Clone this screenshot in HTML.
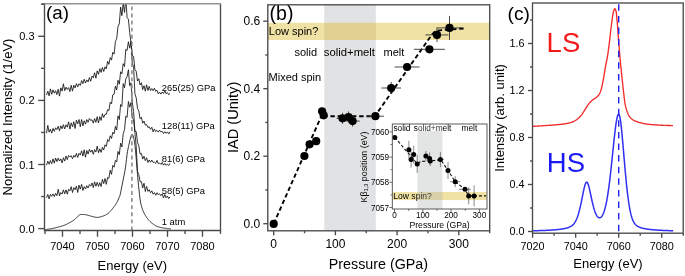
<!DOCTYPE html>
<html><head><meta charset="utf-8"><style>html,body{margin:0;padding:0;background:#fff;width:685px;height:276px;overflow:hidden}svg{display:block;will-change:transform}</style></head><body>
<svg width="685" height="276" viewBox="0 0 685 276" font-family='"Liberation Sans", sans-serif'>
<rect width="685" height="276" fill="#fff"/>
<defs><clipPath id="ca"><rect x="44.5" y="4.0" width="176.0" height="226.5"/></clipPath></defs>
<g clip-path="url(#ca)">
<path d="M45,229.8 L45.5,229.71 L46,229.63 L46.5,229.54 L47,229.45 L47.5,229.36 L48,229.27 L48.5,229.18 L49,229.09 L49.5,228.99 L50,228.9 L50.5,228.81 L51,228.71 L51.5,228.62 L52,228.52 L52.5,228.42 L53,228.32 L53.5,228.22 L54,228.12 L54.5,228.01 L55,227.9 L55.5,227.78 L56,227.67 L56.5,227.54 L57,227.41 L57.5,227.28 L58,227.15 L58.5,227.02 L59,226.88 L59.5,226.74 L60,226.6 L60.5,226.46 L61,226.32 L61.5,226.17 L62,226.02 L62.5,225.87 L63,225.7 L63.5,225.53 L64,225.35 L64.5,225.16 L65,224.96 L65.5,224.75 L66,224.54 L66.5,224.31 L67,224.06 L67.5,223.8 L68,223.53 L68.5,223.25 L69,222.96 L69.5,222.68 L70,222.4 L70.5,222.13 L71,221.86 L71.5,221.59 L72,221.3 L72.5,221 L73,220.68 L73.5,220.34 L74,219.99 L74.5,219.6 L75,219.16 L75.5,218.67 L76,218.15 L76.5,217.64 L77,217.16 L77.5,216.73 L78,216.28 L78.5,215.8 L79,215.35 L79.5,214.96 L80,214.67 L80.5,214.51 L81,214.5 L81.5,214.5 L82,214.5 L82.5,214.5 L83,214.5 L83.5,214.5 L84,214.5 L84.5,214.52 L85,214.59 L85.5,214.68 L86,214.79 L86.5,214.91 L87,215.03 L87.5,215.14 L88,215.27 L88.5,215.4 L89,215.55 L89.5,215.7 L90,215.85 L90.5,216 L91,216.15 L91.5,216.28 L92,216.4 L92.5,216.52 L93,216.64 L93.5,216.77 L94,216.89 L94.5,217.01 L95,217.13 L95.5,217.22 L96,217.3 L96.5,217.36 L97,217.39 L97.5,217.4 L98,217.37 L98.5,217.3 L99,217.21 L99.5,217.11 L100,216.98 L100.5,216.84 L101,216.69 L101.5,216.55 L102,216.4 L102.5,216.25 L103,216.08 L103.5,215.9 L104,215.7 L104.5,215.49 L105,215.26 L105.5,215.02 L106,214.76 L106.5,214.48 L107,214.18 L107.5,213.87 L108,213.5 L108.5,213.08 L109,212.61 L109.5,212.11 L110,211.59 L110.5,211.05 L111,210.5 L111.5,209.93 L112,209.33 L112.5,208.7 L113,208.05 L113.5,207.38 L114,206.7 L114.5,206.03 L115,205.36 L115.5,204.67 L116,203.94 L116.5,203.16 L117,202.3 L117.5,201.32 L118,200.2 L118.5,199.01 L119,197.8 L119.5,196.65 L120,195.32 L120.5,193.34 L121,190.72 L121.5,188.1 L122,185.56 L122.5,183.01 L123,180.5 L123.5,178.03 L124,175.5 L124.5,172.96 L125,170.29 L125.5,167.17 L126,163.41 L126.5,159.25 L127,154.73 L127.5,151.55 L128,148.98 L128.5,146.56 L129,144.31 L129.5,142.12 L130,139.95 L130.5,138 L131,136.24 L131.5,135.02 L132,134.33 L132.5,134.58 L133,135.41 L133.5,137.19 L134,139.35 L134.5,141.78 L135,145.39 L135.5,150.58 L136,156.14 L136.5,162.14 L137,168.19 L137.5,174.25 L138,180 L138.5,185.24 L139,190 L139.5,194.49 L140,198.69 L140.5,202.07 L141,204.43 L141.5,206.33 L142,207.92 L142.5,209.36 L143,210.67 L143.5,211.84 L144,212.91 L144.5,213.88 L145,214.79 L145.5,215.64 L146,216.44 L146.5,217.19 L147,217.9 L147.5,218.56 L148,219.2 L148.5,219.81 L149,220.4 L149.5,220.95 L150,221.46 L150.5,221.94 L151,222.37 L151.5,222.79 L152,223.2 L152.5,223.6 L153,223.99 L153.5,224.36 L154,224.72 L154.5,225.06 L155,225.37 L155.5,225.67 L156,225.93 L156.5,226.18 L157,226.39 L157.5,226.57 L158,226.74 L158.5,226.89 L159,227.04 L159.5,227.17 L160,227.3 L160.5,227.41 L161,227.52 L161.5,227.63 L162,227.72 L162.5,227.81 L163,227.9 L163.5,227.98 L164,228.07 L164.5,228.15 L165,228.23 L165.5,228.3 L166,228.38 L166.5,228.45 L167,228.51 L167.5,228.58 L168,228.64 L168.5,228.69 L169,228.75 L169.5,228.79 L170,228.83 L170.5,228.87 L171,228.9" fill="none" stroke="#111" stroke-width="0.85" stroke-linejoin="round" />
<path d="M46.5,197.68 L47.8,194.46 L49.1,198.86 L50.4,194.4 L51.7,196.35 L53,193.89 L54.3,196.58 L55.6,193.4 L56.9,195.69 L58.2,189.29 L59.5,195.89 L60.8,192.56 L62.1,194.03 L63.4,189.87 L64.7,193.81 L66,189.89 L67.3,194.23 L68.6,189.2 L69.9,190.8 L71.2,186.75 L72.5,192.51 L73.8,187.7 L75.1,189.71 L76.4,186.1 L77.7,192.49 L79,185.16 L80.3,189.11 L81.6,184.35 L82.9,190.51 L84.2,186.66 L85.5,188.96 L86.8,185.71 L88.1,187.92 L89.4,184.57 L90.7,186.16 L92,182.9 L93.3,187.58 L94.6,181.77 L95.9,186.29 L97.2,182.31 L98.5,186.38 L99.8,182.64 L101.1,186.56 L102.4,179.3 L103.7,183.63 L105,178.49 L106.3,184.35 L107.6,177.48 L108.9,178.25 L110.2,170.22 L111.5,174.32 L112.8,165.39 L114.1,167.17 L115.4,160.43 L116.7,162.03 L118,151.48 L119.3,154.67 L120.6,143.14 L121.9,147.01 L123.2,133.81 L124.5,129.62 L125.8,116.24 L127.1,117.31 L128.4,101.48 L129.7,107.18 L131,102.51 L132.3,118.38 L133.6,119.6 L134.9,132.39 L136.2,146.32 L137.5,171.44 L138.8,174.62 L140.1,181.61 L141.4,181.65 L142.7,187.97 L144,183.25 L145.3,191.44 L146.6,186.38 L147.9,191.35 L149.2,189.72 L150.5,192.77 L151.8,190.81 L153.1,194.16 L154.4,192.6 L155.7,195.25 L157,192.7 L158.3,194.76 L159.6,193.81 L160.9,195.7 L162.2,193.9 L163.5,197.96 L164.8,194.51 L166.1,197.75 L167.4,195.99 L168.7,198.67 L170,196.74" fill="none" stroke="#111" stroke-width="0.85" stroke-linejoin="round" />
<path d="M46.5,165.2 L47.8,161.21 L49.1,164.21 L50.4,160.53 L51.7,163.71 L53,158.85 L54.3,163.19 L55.6,157.98 L56.9,161.55 L58.2,158.15 L59.5,161.04 L60.8,158.9 L62.1,162.92 L63.4,157.72 L64.7,161.06 L66,156.08 L67.3,159.64 L68.6,155.41 L69.9,156.84 L71.2,155.73 L72.5,158.58 L73.8,155.41 L75.1,157.17 L76.4,153.4 L77.7,157.37 L79,153.29 L80.3,155 L81.6,150.83 L82.9,156.1 L84.2,149.81 L85.5,157.24 L86.8,150.48 L88.1,154.06 L89.4,149.28 L90.7,152.2 L92,150.04 L93.3,154.32 L94.6,149.66 L95.9,151.98 L97.2,146.16 L98.5,152.78 L99.8,148.86 L101.1,152.42 L102.4,147.26 L103.7,150.01 L105,144.82 L106.3,146.41 L107.6,139.57 L108.9,141.4 L110.2,135.82 L111.5,138.51 L112.8,132.26 L114.1,133.85 L115.4,126.38 L116.7,130.06 L118,115.84 L119.3,119.55 L120.6,104.53 L121.9,106.4 L123.2,83.62 L124.5,87.75 L125.8,78.77 L127.1,76.69 L128.4,69.74 L129.7,85.74 L131,82.83 L132.3,102.36 L133.6,111.59 L134.9,131.46 L136.2,131.52 L137.5,142.45 L138.8,145.79 L140.1,154.07 L141.4,153.42 L142.7,159.09 L144,156.21 L145.3,160.64 L146.6,157.71 L147.9,162.49 L149.2,159.98 L150.5,162.22 L151.8,160.04 L153.1,162.46 L154.4,162.12 L155.7,163.31 L157,160.36 L158.3,163.83 L159.6,163.01 L160.9,164.36 L162.2,162.37 L163.5,165.19 L164.8,163.4 L166.1,165.33 L167.4,164.06 L168.7,165.46 L170,163.41" fill="none" stroke="#111" stroke-width="0.85" stroke-linejoin="round" />
<path d="M46.5,133.17 L47.8,125.4 L49.1,132.13 L50.4,129.13 L51.7,133.11 L53,128.4 L54.3,131.4 L55.6,127.81 L56.9,129.57 L58.2,126.18 L59.5,130.84 L60.8,125.79 L62.1,128.75 L63.4,124.67 L64.7,128.96 L66,124.78 L67.3,127.17 L68.6,121.82 L69.9,129.08 L71.2,122.85 L72.5,126.72 L73.8,121.81 L75.1,128.47 L76.4,120.12 L77.7,123.86 L79,119.52 L80.3,126.75 L81.6,119.5 L82.9,125.88 L84.2,120.75 L85.5,124.14 L86.8,119.58 L88.1,122.36 L89.4,118.44 L90.7,120.51 L92,119.71 L93.3,123.16 L94.6,118.6 L95.9,122.38 L97.2,116.73 L98.5,122.98 L99.8,116.62 L101.1,120.44 L102.4,113.66 L103.7,117.47 L105,114.33 L106.3,114.37 L107.6,109.6 L108.9,110.61 L110.2,102.26 L111.5,103.86 L112.8,94.84 L114.1,94.12 L115.4,86.1 L116.7,90.01 L118,80.31 L119.3,84.24 L120.6,71.76 L121.9,73.76 L123.2,63.68 L124.5,66.53 L125.8,49.35 L127.1,50.44 L128.4,41.75 L129.7,48.17 L131,41.22 L132.3,63.63 L133.6,66.38 L134.9,93.66 L136.2,97.77 L137.5,108.44 L138.8,111.07 L140.1,118.84 L141.4,117.31 L142.7,123.24 L144,121.01 L145.3,125.17 L146.6,124.49 L147.9,127.51 L149.2,126.7 L150.5,129.28 L151.8,127.27 L153.1,131.91 L154.4,128.97 L155.7,131.53 L157,130.34 L158.3,132.12 L159.6,130.12 L160.9,131.9 L162.2,131.32 L163.5,133.58 L164.8,131.72 L166.1,133.34 L167.4,131.92 L168.7,133.95 L170,131.51" fill="none" stroke="#111" stroke-width="0.85" stroke-linejoin="round" />
<path d="M46.5,94.97 L47.8,91.13 L49.1,95.85 L50.4,88.88 L51.7,94.31 L53,89.82 L54.3,93.13 L55.6,90.71 L56.9,94.59 L58.2,89.22 L59.5,96.14 L60.8,87.87 L62.1,91.07 L63.4,83.8 L64.7,90.68 L66,87.16 L67.3,89.51 L68.6,87.57 L69.9,91.59 L71.2,85.31 L72.5,91.14 L73.8,85.28 L75.1,87.9 L76.4,83.67 L77.7,86.86 L79,83.79 L80.3,85.38 L81.6,80.58 L82.9,83.68 L84.2,79.22 L85.5,83.05 L86.8,79.91 L88.1,81.98 L89.4,77.56 L90.7,81.3 L92,76.07 L93.3,77.85 L94.6,72.79 L95.9,78.21 L97.2,70.84 L98.5,74.31 L99.8,68.67 L101.1,72.4 L102.4,67.47 L103.7,71.57 L105,66.82 L106.3,68.88 L107.6,61.27 L108.9,64.33 L110.2,57.67 L111.5,60.09 L112.8,52.31 L114.1,54.08 L115.4,41.62 L116.7,38.6 L118,26.43 L119.3,23.8 L120.6,7.16 L121.9,15.63 L123.2,2.58 L124.5,12.42 L125.8,-1.54 L127.1,17.56 L128.4,19.23 L129.7,32.55 L131,42.82 L132.3,55.36 L133.6,56.53 L134.9,69.54 L136.2,71.21 L137.5,81.09 L138.8,78.73 L140.1,85.01 L141.4,82.69 L142.7,89.56 L144,85.69 L145.3,91.18 L146.6,84.83 L147.9,90.51 L149.2,86.46 L150.5,90.69 L151.8,88.56 L153.1,90.67 L154.4,88.25 L155.7,91.31 L157,90.26 L158.3,93.93 L159.6,92.19 L160.9,94.11 L162.2,92.04 L163.5,93.51 L164.8,90.92 L166.1,93.74 L167.4,92.56 L168.7,94.64 L170,93.53" fill="none" stroke="#111" stroke-width="0.85" stroke-linejoin="round" />
</g>
<line x1="131.9" y1="4.0" x2="131.9" y2="230.5" stroke="#858585" stroke-width="1.5" stroke-dasharray="3.9,3.2" stroke-dashoffset="4.7"/>
<path d="M44.5,4.0 V230.5 H220.5 V4.0" fill="none" stroke="#4a4a4a" stroke-width="1.35"/>
<line x1="41.4" y1="3.8" x2="221.1" y2="3.8" stroke="#939393" stroke-width="1.6"/>
<line x1="38.2" y1="228.60" x2="44.5" y2="228.60" stroke="#4a4a4a" stroke-width="1.35"/>
<text x="34.5" y="232.6" font-size="11" text-anchor="end" fill="#000" >0.0</text>
<line x1="41.1" y1="196.55" x2="44.5" y2="196.55" stroke="#4a4a4a" stroke-width="1.35"/>
<line x1="38.2" y1="164.50" x2="44.5" y2="164.50" stroke="#4a4a4a" stroke-width="1.35"/>
<text x="34.5" y="168.5" font-size="11" text-anchor="end" fill="#000" >0.1</text>
<line x1="41.1" y1="132.45" x2="44.5" y2="132.45" stroke="#4a4a4a" stroke-width="1.35"/>
<line x1="38.2" y1="100.40" x2="44.5" y2="100.40" stroke="#4a4a4a" stroke-width="1.35"/>
<text x="34.5" y="104.4" font-size="11" text-anchor="end" fill="#000" >0.2</text>
<line x1="41.1" y1="68.35" x2="44.5" y2="68.35" stroke="#4a4a4a" stroke-width="1.35"/>
<line x1="38.2" y1="36.30" x2="44.5" y2="36.30" stroke="#4a4a4a" stroke-width="1.35"/>
<text x="34.5" y="40.3" font-size="11" text-anchor="end" fill="#000" >0.3</text>
<line x1="41.1" y1="4.25" x2="44.5" y2="4.25" stroke="#4a4a4a" stroke-width="1.35"/>
<line x1="45.00" y1="230.5" x2="45.00" y2="233.9" stroke="#4a4a4a" stroke-width="1.35"/>
<line x1="62.50" y1="230.5" x2="62.50" y2="236.8" stroke="#4a4a4a" stroke-width="1.35"/>
<text x="62.5" y="250.2" font-size="11" text-anchor="middle" fill="#000" >7040</text>
<line x1="80.00" y1="230.5" x2="80.00" y2="233.9" stroke="#4a4a4a" stroke-width="1.35"/>
<line x1="97.50" y1="230.5" x2="97.50" y2="236.8" stroke="#4a4a4a" stroke-width="1.35"/>
<text x="97.5" y="250.2" font-size="11" text-anchor="middle" fill="#000" >7050</text>
<line x1="115.00" y1="230.5" x2="115.00" y2="233.9" stroke="#4a4a4a" stroke-width="1.35"/>
<line x1="132.50" y1="230.5" x2="132.50" y2="236.8" stroke="#4a4a4a" stroke-width="1.35"/>
<text x="132.5" y="250.2" font-size="11" text-anchor="middle" fill="#000" >7060</text>
<line x1="150.00" y1="230.5" x2="150.00" y2="233.9" stroke="#4a4a4a" stroke-width="1.35"/>
<line x1="167.50" y1="230.5" x2="167.50" y2="236.8" stroke="#4a4a4a" stroke-width="1.35"/>
<text x="167.5" y="250.2" font-size="11" text-anchor="middle" fill="#000" >7070</text>
<line x1="185.00" y1="230.5" x2="185.00" y2="233.9" stroke="#4a4a4a" stroke-width="1.35"/>
<line x1="202.50" y1="230.5" x2="202.50" y2="236.8" stroke="#4a4a4a" stroke-width="1.35"/>
<text x="202.5" y="250.2" font-size="11" text-anchor="middle" fill="#000" >7080</text>
<line x1="220.50" y1="230.5" x2="220.50" y2="233.9" stroke="#4a4a4a" stroke-width="1.35"/>
<text x="46" y="18.6" font-size="18.8" text-anchor="start" fill="#000" >(a)</text>
<text x="161.8" y="91.1" font-size="9.4" text-anchor="start" fill="#000" >265(25) GPa</text>
<text x="161.8" y="129.2" font-size="9.4" text-anchor="start" fill="#000" >128(11) GPa</text>
<text x="161.8" y="162.3" font-size="9.4" text-anchor="start" fill="#000" >81(6) GPa</text>
<text x="161.8" y="193.8" font-size="9.4" text-anchor="start" fill="#000" >58(5) GPa</text>
<text x="161.8" y="224.8" font-size="9.4" text-anchor="start" fill="#000" >1 atm</text>
<text x="132.3" y="270.3" font-size="13" text-anchor="middle" fill="#000" >Energy (eV)</text>
<text transform="translate(11.7,117) rotate(-90)" font-size="13" text-anchor="middle" fill="#000">Normalized Intensity (1/eV)</text>
<rect x="324.294" y="4.8" width="51.52" height="226.0" fill="#e1e2e3"/>
<rect x="267.8" y="22.8" width="221.90" height="17.2" fill="#efe2a4"/>
<rect x="324.294" y="22.8" width="51.52" height="17.2" fill="#e0d091"/>
<text x="269.6" y="20.2" font-size="19.5" text-anchor="start" fill="#000" >(b)</text>
<text x="268.8" y="34.8" font-size="11" text-anchor="start" fill="#000" >Low spin?</text>
<text x="294.4" y="55.6" font-size="11" text-anchor="start" fill="#000" >solid</text>
<text x="323.8" y="55.6" font-size="11.3" text-anchor="start" fill="#000" >solid+melt</text>
<text x="383.6" y="55.6" font-size="11" text-anchor="start" fill="#000" >melt</text>
<text x="268.6" y="81" font-size="11" text-anchor="start" fill="#000" >Mixed spin</text>
<path d="M273.7,223.7 L322.5,113.5 L325,116.2 L374.9,116.2 L431.4,35.3 L434,32.4 L436.8,30.8 L442.8,30 L465,28.4" fill="none" stroke="#000" stroke-width="1.9" stroke-linejoin="round" stroke-dasharray="4.4,2.8"/>
<line x1="336.5" y1="118.3" x2="348.5" y2="118.3" stroke="#333" stroke-width="0.9"/>
<line x1="342.5" y1="112.8" x2="342.5" y2="123.8" stroke="#333" stroke-width="0.9"/>
<line x1="343.0" y1="117" x2="354.0" y2="117" stroke="#333" stroke-width="0.9"/>
<line x1="348.5" y1="111.5" x2="348.5" y2="122.5" stroke="#333" stroke-width="0.9"/>
<line x1="345.6" y1="121.1" x2="359.6" y2="121.1" stroke="#333" stroke-width="0.9"/>
<line x1="352.6" y1="115.6" x2="352.6" y2="126.6" stroke="#333" stroke-width="0.9"/>
<line x1="366.9" y1="116.2" x2="383.9" y2="116.2" stroke="#333" stroke-width="0.9"/>
<line x1="381.4" y1="88" x2="401.0" y2="88" stroke="#333" stroke-width="0.9"/>
<line x1="391.2" y1="82" x2="391.2" y2="94" stroke="#333" stroke-width="0.9"/>
<line x1="394.6" y1="67" x2="419.6" y2="67" stroke="#333" stroke-width="0.9"/>
<line x1="413.9" y1="49.3" x2="444.9" y2="49.3" stroke="#333" stroke-width="0.9"/>
<line x1="429.4" y1="46.3" x2="429.4" y2="52.3" stroke="#333" stroke-width="0.9"/>
<line x1="425.5" y1="34.9" x2="448.5" y2="34.9" stroke="#333" stroke-width="0.9"/>
<line x1="437" y1="27.9" x2="437" y2="41.9" stroke="#333" stroke-width="0.9"/>
<line x1="436.5" y1="27.9" x2="462.5" y2="27.9" stroke="#333" stroke-width="0.9"/>
<line x1="449.5" y1="15.899999999999999" x2="449.5" y2="39.9" stroke="#333" stroke-width="0.9"/>
<circle cx="273.7" cy="223.9" r="4.1" fill="#000"/>
<circle cx="304.4" cy="156" r="4.1" fill="#000"/>
<circle cx="309.6" cy="144.3" r="4.1" fill="#000"/>
<circle cx="316.2" cy="141.2" r="4.1" fill="#000"/>
<circle cx="322.1" cy="111.3" r="4.1" fill="#000"/>
<circle cx="323.7" cy="115.3" r="4.1" fill="#000"/>
<circle cx="342.5" cy="118.3" r="4.1" fill="#000"/>
<circle cx="348.5" cy="117" r="4.1" fill="#000"/>
<circle cx="352.6" cy="121.1" r="4.1" fill="#000"/>
<circle cx="375.4" cy="116.2" r="4.1" fill="#000"/>
<circle cx="391.2" cy="88" r="4.1" fill="#000"/>
<circle cx="407.1" cy="67" r="4.1" fill="#000"/>
<circle cx="429.4" cy="49.3" r="4.1" fill="#000"/>
<circle cx="437" cy="34.9" r="4.1" fill="#000"/>
<circle cx="449.5" cy="27.9" r="4.1" fill="#000"/>
<rect x="392.3" y="124.0" width="94.70" height="85.00" fill="#fff"/>
<rect x="392.3" y="192.1" width="94.70" height="8.0" fill="#efe2a4"/>
<text x="393.2" y="199" font-size="8.6" text-anchor="start" fill="#000" >Low spin?</text>
<text x="393.4" y="130.6" font-size="8.3" text-anchor="start" fill="#000" >solid</text>
<text x="413.8" y="130.6" font-size="8.3" text-anchor="start" fill="#000" >solid+melt</text>
<text x="461.6" y="130.6" font-size="8.3" text-anchor="start" fill="#000" >melt</text>
<rect x="417.4" y="130.9" width="25.0" height="78.10" fill="#aaacae" fill-opacity="0.33"/>
<rect x="417.4" y="124.0" width="25.0" height="6.90" fill="#fff" fill-opacity="0.18"/>
<path d="M394.8,137.4 L417,163.5 L421,161.5 L441,160 L448,170.4 L455.2,181.7 L465,189.3 L468.7,195.9 L486,195.9" fill="none" stroke="#111" stroke-width="1.1" stroke-linejoin="round" stroke-dasharray="3,2"/>
<line x1="408.9" y1="140.8" x2="408.9" y2="158.8" stroke="#555" stroke-width="0.7"/>
<line x1="413.7" y1="145.6" x2="413.7" y2="163.6" stroke="#555" stroke-width="0.7"/>
<line x1="411.1" y1="151.6" x2="411.1" y2="167.6" stroke="#555" stroke-width="0.7"/>
<line x1="417.2" y1="154.9" x2="417.2" y2="172.9" stroke="#555" stroke-width="0.7"/>
<line x1="425.9" y1="150.9" x2="425.9" y2="160.9" stroke="#555" stroke-width="0.7"/>
<line x1="429.6" y1="152.5" x2="429.6" y2="164.5" stroke="#555" stroke-width="0.7"/>
<line x1="430.2" y1="156.1" x2="430.2" y2="166.1" stroke="#555" stroke-width="0.7"/>
<line x1="436.9" y1="159.6" x2="443.9" y2="159.6" stroke="#555" stroke-width="0.7"/>
<line x1="440.4" y1="152.1" x2="440.4" y2="167.1" stroke="#555" stroke-width="0.7"/>
<line x1="448" y1="161.9" x2="448" y2="178.9" stroke="#555" stroke-width="0.7"/>
<line x1="450.2" y1="181.7" x2="460.2" y2="181.7" stroke="#555" stroke-width="0.7"/>
<line x1="455.2" y1="176.2" x2="455.2" y2="187.2" stroke="#555" stroke-width="0.7"/>
<line x1="459" y1="189.3" x2="471" y2="189.3" stroke="#555" stroke-width="0.7"/>
<line x1="468.7" y1="187.4" x2="468.7" y2="204.4" stroke="#555" stroke-width="0.7"/>
<line x1="474.1" y1="185.4" x2="474.1" y2="206.4" stroke="#555" stroke-width="0.7"/>
<circle cx="394.8" cy="137.4" r="2.5" fill="#000"/>
<circle cx="408.9" cy="149.8" r="2.5" fill="#000"/>
<circle cx="413.7" cy="154.6" r="2.5" fill="#000"/>
<circle cx="411.1" cy="159.6" r="2.5" fill="#000"/>
<circle cx="417.2" cy="163.9" r="2.5" fill="#000"/>
<circle cx="425.9" cy="155.9" r="2.5" fill="#000"/>
<circle cx="429.6" cy="158.5" r="2.5" fill="#000"/>
<circle cx="430.2" cy="161.1" r="2.5" fill="#000"/>
<circle cx="440.4" cy="159.6" r="2.5" fill="#000"/>
<circle cx="448" cy="170.4" r="2.5" fill="#000"/>
<circle cx="455.2" cy="181.7" r="2.5" fill="#000"/>
<circle cx="465" cy="189.3" r="2.5" fill="#000"/>
<circle cx="468.7" cy="195.9" r="2.5" fill="#000"/>
<circle cx="474.1" cy="195.9" r="2.5" fill="#000"/>
<rect x="392.3" y="124.0" width="94.70" height="85.00" fill="none" stroke="#4a4a4a" stroke-width="0.9"/>
<line x1="394.50" y1="209.0" x2="394.50" y2="212.0" stroke="#4a4a4a" stroke-width="0.8"/>
<text x="394.5" y="218" font-size="8.2" text-anchor="middle" fill="#000" >0</text>
<line x1="408.65" y1="209.0" x2="408.65" y2="210.8" stroke="#4a4a4a" stroke-width="0.8"/>
<line x1="422.80" y1="209.0" x2="422.80" y2="212.0" stroke="#4a4a4a" stroke-width="0.8"/>
<text x="422.8" y="218" font-size="8.2" text-anchor="middle" fill="#000" >100</text>
<line x1="436.95" y1="209.0" x2="436.95" y2="210.8" stroke="#4a4a4a" stroke-width="0.8"/>
<line x1="451.10" y1="209.0" x2="451.10" y2="212.0" stroke="#4a4a4a" stroke-width="0.8"/>
<text x="451.1" y="218" font-size="8.2" text-anchor="middle" fill="#000" >200</text>
<line x1="465.25" y1="209.0" x2="465.25" y2="210.8" stroke="#4a4a4a" stroke-width="0.8"/>
<line x1="479.40" y1="209.0" x2="479.40" y2="212.0" stroke="#4a4a4a" stroke-width="0.8"/>
<text x="479.4" y="218" font-size="8.2" text-anchor="middle" fill="#000" >300</text>
<line x1="389.3" y1="207.50" x2="392.3" y2="207.50" stroke="#4a4a4a" stroke-width="0.8"/>
<text x="389.1" y="210.5" font-size="8.2" text-anchor="end" fill="#000" >7057</text>
<line x1="390.5" y1="194.90" x2="392.3" y2="194.90" stroke="#4a4a4a" stroke-width="0.8"/>
<line x1="389.3" y1="182.30" x2="392.3" y2="182.30" stroke="#4a4a4a" stroke-width="0.8"/>
<text x="389.1" y="185.3" font-size="8.2" text-anchor="end" fill="#000" >7058</text>
<line x1="390.5" y1="169.70" x2="392.3" y2="169.70" stroke="#4a4a4a" stroke-width="0.8"/>
<line x1="389.3" y1="157.10" x2="392.3" y2="157.10" stroke="#4a4a4a" stroke-width="0.8"/>
<text x="389.1" y="160.1" font-size="8.2" text-anchor="end" fill="#000" >7059</text>
<line x1="390.5" y1="144.50" x2="392.3" y2="144.50" stroke="#4a4a4a" stroke-width="0.8"/>
<line x1="389.3" y1="131.90" x2="392.3" y2="131.90" stroke="#4a4a4a" stroke-width="0.8"/>
<text x="389.1" y="134.9" font-size="8.2" text-anchor="end" fill="#000" >7060</text>
<text x="439.6" y="228.4" font-size="8.7" text-anchor="middle" fill="#000" >Pressure (GPa)</text>
<text transform="translate(367.0,167.0) rotate(-90)" font-size="8.85" text-anchor="middle" fill="#000">Kβ<tspan font-size="5.6" dy="0.9">1,3</tspan><tspan dy="-0.9"> position (eV)</tspan></text>
<rect x="267.8" y="4.8" width="221.90" height="226.00" fill="none" stroke="#4a4a4a" stroke-width="1.35"/>
<line x1="263.3" y1="223.70" x2="267.8" y2="223.70" stroke="#4a4a4a" stroke-width="1.35"/>
<text x="260.3" y="227.6" font-size="12" text-anchor="end" fill="#000" >0.0</text>
<line x1="265.3" y1="189.95" x2="267.8" y2="189.95" stroke="#4a4a4a" stroke-width="1.35"/>
<line x1="263.3" y1="156.20" x2="267.8" y2="156.20" stroke="#4a4a4a" stroke-width="1.35"/>
<text x="260.3" y="160.1" font-size="12" text-anchor="end" fill="#000" >0.2</text>
<line x1="265.3" y1="122.45" x2="267.8" y2="122.45" stroke="#4a4a4a" stroke-width="1.35"/>
<line x1="263.3" y1="88.70" x2="267.8" y2="88.70" stroke="#4a4a4a" stroke-width="1.35"/>
<text x="260.3" y="92.6" font-size="12" text-anchor="end" fill="#000" >0.4</text>
<line x1="265.3" y1="54.95" x2="267.8" y2="54.95" stroke="#4a4a4a" stroke-width="1.35"/>
<line x1="263.3" y1="21.20" x2="267.8" y2="21.20" stroke="#4a4a4a" stroke-width="1.35"/>
<text x="260.3" y="25.1" font-size="12" text-anchor="end" fill="#000" >0.6</text>
<line x1="273.70" y1="230.8" x2="273.70" y2="235.3" stroke="#4a4a4a" stroke-width="1.35"/>
<text x="273.7" y="248" font-size="12" text-anchor="middle" fill="#000" >0</text>
<line x1="304.55" y1="230.8" x2="304.55" y2="233.3" stroke="#4a4a4a" stroke-width="1.35"/>
<line x1="335.40" y1="230.8" x2="335.40" y2="235.3" stroke="#4a4a4a" stroke-width="1.35"/>
<text x="335.4" y="248" font-size="12" text-anchor="middle" fill="#000" >100</text>
<line x1="366.25" y1="230.8" x2="366.25" y2="233.3" stroke="#4a4a4a" stroke-width="1.35"/>
<line x1="397.10" y1="230.8" x2="397.10" y2="235.3" stroke="#4a4a4a" stroke-width="1.35"/>
<text x="397.1" y="248" font-size="12" text-anchor="middle" fill="#000" >200</text>
<line x1="427.95" y1="230.8" x2="427.95" y2="233.3" stroke="#4a4a4a" stroke-width="1.35"/>
<line x1="458.80" y1="230.8" x2="458.80" y2="235.3" stroke="#4a4a4a" stroke-width="1.35"/>
<text x="458.8" y="248" font-size="12" text-anchor="middle" fill="#000" >300</text>
<line x1="489.65" y1="230.8" x2="489.65" y2="233.3" stroke="#4a4a4a" stroke-width="1.35"/>
<text x="378.4" y="269.4" font-size="14.3" text-anchor="middle" fill="#000" >Pressure (GPa)</text>
<text transform="translate(237.8,117.4) rotate(-90)" font-size="14.6" text-anchor="middle" fill="#000">IAD (Unity)</text>
<path d="M533,126.3 L533.4,126.28 L533.8,126.26 L534.2,126.24 L534.6,126.22 L535,126.19 L535.4,126.17 L535.8,126.15 L536.2,126.13 L536.6,126.11 L537,126.08 L537.4,126.06 L537.8,126.04 L538.2,126.01 L538.6,125.99 L539,125.97 L539.4,125.94 L539.8,125.92 L540.2,125.9 L540.6,125.87 L541,125.85 L541.4,125.82 L541.8,125.8 L542.2,125.78 L542.6,125.75 L543,125.73 L543.4,125.7 L543.8,125.68 L544.2,125.65 L544.6,125.63 L545,125.6 L545.4,125.57 L545.8,125.55 L546.2,125.52 L546.6,125.5 L547,125.47 L547.4,125.45 L547.8,125.42 L548.2,125.4 L548.6,125.37 L549,125.34 L549.4,125.32 L549.8,125.29 L550.2,125.26 L550.6,125.24 L551,125.21 L551.4,125.18 L551.8,125.15 L552.2,125.12 L552.6,125.09 L553,125.06 L553.4,125.03 L553.8,125 L554.2,124.97 L554.6,124.93 L555,124.9 L555.4,124.87 L555.8,124.83 L556.2,124.8 L556.6,124.76 L557,124.72 L557.4,124.69 L557.8,124.65 L558.2,124.61 L558.6,124.57 L559,124.53 L559.4,124.49 L559.8,124.45 L560.2,124.4 L560.6,124.36 L561,124.31 L561.4,124.27 L561.8,124.22 L562.2,124.17 L562.6,124.12 L563,124.07 L563.4,124.01 L563.8,123.96 L564.2,123.9 L564.6,123.84 L565,123.78 L565.4,123.71 L565.8,123.65 L566.2,123.58 L566.6,123.5 L567,123.43 L567.4,123.35 L567.8,123.27 L568.2,123.18 L568.6,123.09 L569,123 L569.4,122.9 L569.8,122.8 L570.2,122.69 L570.6,122.58 L571,122.46 L571.4,122.33 L571.8,122.2 L572.2,122.06 L572.6,121.91 L573,121.75 L573.4,121.59 L573.8,121.41 L574.2,121.21 L574.6,121 L575,120.77 L575.4,120.52 L575.8,120.25 L576.2,119.97 L576.6,119.69 L577,119.39 L577.4,119.08 L577.8,118.76 L578.2,118.42 L578.6,118.06 L579,117.68 L579.4,117.29 L579.8,116.87 L580.2,116.44 L580.6,116 L581,115.54 L581.4,115.06 L581.8,114.54 L582.2,113.99 L582.6,113.41 L583,112.81 L583.4,112.2 L583.8,111.58 L584.2,110.96 L584.6,110.35 L585,109.71 L585.4,109.05 L585.8,108.38 L586.2,107.7 L586.6,107.04 L587,106.4 L587.4,105.79 L587.8,105.22 L588.2,104.66 L588.6,104.13 L589,103.61 L589.4,103.11 L589.8,102.64 L590.2,102.2 L590.6,101.79 L591,101.39 L591.4,101.02 L591.8,100.66 L592.2,100.32 L592.6,100 L593,99.7 L593.4,99.42 L593.8,99.16 L594.2,98.9 L594.6,98.65 L595,98.37 L595.4,98.08 L595.8,97.76 L596.2,97.45 L596.6,97.12 L597,96.78 L597.4,96.41 L597.8,96.01 L598.2,95.57 L598.6,95.07 L599,94.5 L599.4,93.84 L599.8,93.08 L600.2,92.22 L600.6,91.24 L601,89.99 L601.4,88.49 L601.8,86.84 L602.2,85.13 L602.6,83.27 L603,81.26 L603.4,79.14 L603.8,76.93 L604.2,74.5 L604.6,71.91 L605,69.37 L605.4,67.05 L605.8,65 L606.2,63.1 L606.6,61.22 L607,59.23 L607.4,57 L607.8,54.46 L608.2,51.67 L608.6,48.68 L609,45.58 L609.4,42.37 L609.8,38.9 L610.2,35.32 L610.6,31.83 L611,28.52 L611.4,25.23 L611.8,22.08 L612.2,19.17 L612.6,16.47 L613,13.83 L613.4,11.72 L613.8,10.43 L614.2,9.42 L614.6,8.79 L615,8.78 L615.4,9.37 L615.8,10.39 L616.2,11.95 L616.6,15.35 L617,19.76 L617.4,24.34 L617.8,29.69 L618.2,35.32 L618.6,40.58 L619,45.69 L619.4,50.64 L619.8,55.29 L620.2,59.71 L620.6,63.94 L621,68.03 L621.4,71.97 L621.8,75.81 L622.2,79.57 L622.6,83.3 L623,86.99 L623.4,90.58 L623.8,94 L624.2,97.39 L624.6,100.68 L625,103.44 L625.4,105.49 L625.8,107.19 L626.2,108.67 L626.6,110 L627,111.23 L627.4,112.34 L627.8,113.34 L628.2,114.24 L628.6,115.07 L629,115.82 L629.4,116.46 L629.8,116.99 L630.2,117.46 L630.6,117.88 L631,118.26 L631.4,118.62 L631.8,118.95 L632.2,119.26 L632.6,119.55 L633,119.82 L633.4,120.07 L633.8,120.3 L634.2,120.51 L634.6,120.7 L635,120.89 L635.4,121.06 L635.8,121.22 L636.2,121.38 L636.6,121.54 L637,121.7 L637.4,121.85 L637.8,122.01 L638.2,122.15 L638.6,122.29 L639,122.42 L639.4,122.54 L639.8,122.65 L640.2,122.76 L640.6,122.86 L641,122.96 L641.4,123.06 L641.8,123.16 L642.2,123.25 L642.6,123.34 L643,123.42 L643.4,123.51 L643.8,123.59 L644.2,123.66 L644.6,123.74 L645,123.81 L645.4,123.88 L645.8,123.94 L646.2,124 L646.6,124.06 L647,124.11 L647.4,124.16 L647.8,124.21 L648.2,124.26 L648.6,124.31 L649,124.35 L649.4,124.39 L649.8,124.44 L650.2,124.48 L650.6,124.51 L651,124.55 L651.4,124.59 L651.8,124.62 L652.2,124.65 L652.6,124.69 L653,124.72 L653.4,124.75 L653.8,124.78 L654.2,124.81 L654.6,124.84 L655,124.86 L655.4,124.89 L655.8,124.92 L656.2,124.94 L656.6,124.97 L657,124.99 L657.4,125.02 L657.8,125.04 L658.2,125.07 L658.6,125.09 L659,125.11 L659.4,125.13 L659.8,125.15 L660.2,125.17 L660.6,125.19 L661,125.21 L661.4,125.23 L661.8,125.25 L662.2,125.27 L662.6,125.28 L663,125.3 L663.4,125.32 L663.8,125.33 L664.2,125.35 L664.6,125.36 L665,125.38 L665.4,125.39 L665.8,125.41 L666.2,125.42 L666.6,125.43 L667,125.45 L667.4,125.46 L667.8,125.47 L668.2,125.49 L668.6,125.5 L669,125.51 L669.4,125.52 L669.8,125.53 L670.2,125.54 L670.6,125.55 L671,125.56 L671.4,125.57 L671.8,125.58 L672.2,125.59 L672.6,125.59 L673,125.6" fill="none" stroke="#f22a2a" stroke-width="1.35" stroke-linejoin="round" />
<path d="M532.6,230.78 L532.82,230.78 L533.03,230.77 L533.25,230.77 L533.46,230.76 L533.68,230.76 L533.89,230.75 L534.11,230.75 L534.32,230.74 L534.54,230.74 L534.75,230.73 L534.97,230.73 L535.18,230.72 L535.4,230.72 L535.61,230.71 L535.83,230.71 L536.04,230.7 L536.26,230.7 L536.47,230.69 L536.69,230.69 L536.91,230.68 L537.12,230.67 L537.34,230.67 L537.55,230.66 L537.77,230.66 L537.98,230.65 L538.2,230.64 L538.41,230.64 L538.63,230.63 L538.84,230.63 L539.06,230.62 L539.27,230.61 L539.49,230.61 L539.7,230.6 L539.92,230.59 L540.13,230.59 L540.35,230.58 L540.56,230.57 L540.78,230.57 L540.99,230.56 L541.21,230.55 L541.43,230.54 L541.64,230.54 L541.86,230.53 L542.07,230.52 L542.29,230.51 L542.5,230.51 L542.72,230.5 L542.93,230.49 L543.15,230.48 L543.36,230.47 L543.58,230.47 L543.79,230.46 L544.01,230.45 L544.22,230.44 L544.44,230.43 L544.65,230.42 L544.87,230.42 L545.08,230.41 L545.3,230.4 L545.52,230.39 L545.73,230.38 L545.95,230.37 L546.16,230.36 L546.38,230.35 L546.59,230.34 L546.81,230.33 L547.02,230.32 L547.24,230.31 L547.45,230.3 L547.67,230.29 L547.88,230.28 L548.1,230.27 L548.31,230.26 L548.53,230.24 L548.74,230.23 L548.96,230.22 L549.17,230.21 L549.39,230.2 L549.6,230.19 L549.82,230.17 L550.04,230.16 L550.25,230.15 L550.47,230.14 L550.68,230.12 L550.9,230.11 L551.11,230.1 L551.33,230.08 L551.54,230.07 L551.76,230.06 L551.97,230.04 L552.19,230.03 L552.4,230.01 L552.62,230 L552.83,229.98 L553.05,229.97 L553.26,229.95 L553.48,229.94 L553.69,229.92 L553.91,229.9 L554.13,229.89 L554.34,229.87 L554.56,229.85 L554.77,229.84 L554.99,229.82 L555.2,229.8 L555.42,229.78 L555.63,229.76 L555.85,229.74 L556.06,229.72 L556.28,229.7 L556.49,229.68 L556.71,229.66 L556.92,229.64 L557.14,229.62 L557.35,229.6 L557.57,229.58 L557.78,229.55 L558,229.53 L558.21,229.51 L558.43,229.48 L558.65,229.46 L558.86,229.43 L559.08,229.41 L559.29,229.38 L559.51,229.36 L559.72,229.33 L559.94,229.3 L560.15,229.28 L560.37,229.25 L560.58,229.22 L560.8,229.19 L561.01,229.16 L561.23,229.13 L561.44,229.09 L561.66,229.06 L561.87,229.03 L562.09,229 L562.3,228.96 L562.52,228.93 L562.74,228.89 L562.95,228.85 L563.17,228.81 L563.38,228.78 L563.6,228.74 L563.81,228.69 L564.03,228.65 L564.24,228.61 L564.46,228.57 L564.67,228.52 L564.89,228.48 L565.1,228.43 L565.32,228.38 L565.53,228.33 L565.75,228.28 L565.96,228.22 L566.18,228.17 L566.39,228.11 L566.61,228.06 L566.82,228 L567.04,227.93 L567.26,227.87 L567.47,227.81 L567.69,227.74 L567.9,227.67 L568.12,227.59 L568.33,227.52 L568.55,227.44 L568.76,227.36 L568.98,227.27 L569.19,227.18 L569.41,227.09 L569.62,227 L569.84,226.9 L570.05,226.79 L570.27,226.68 L570.48,226.57 L570.7,226.45 L570.91,226.32 L571.13,226.19 L571.35,226.05 L571.56,225.91 L571.78,225.75 L571.99,225.59 L572.21,225.42 L572.42,225.25 L572.64,225.06 L572.85,224.86 L573.07,224.65 L573.28,224.43 L573.5,224.2 L573.71,223.96 L573.93,223.7 L574.14,223.42 L574.36,223.14 L574.57,222.83 L574.79,222.52 L575,222.18 L575.22,221.82 L575.43,221.45 L575.65,221.06 L575.87,220.65 L576.08,220.21 L576.3,219.76 L576.51,219.28 L576.73,218.78 L576.94,218.25 L577.16,217.7 L577.37,217.13 L577.59,216.53 L577.8,215.9 L578.02,215.25 L578.23,214.57 L578.45,213.87 L578.66,213.14 L578.88,212.38 L579.09,211.59 L579.31,210.77 L579.52,209.93 L579.74,209.07 L579.96,208.17 L580.17,207.26 L580.39,206.31 L580.6,205.35 L580.82,204.36 L581.03,203.35 L581.25,202.33 L581.46,201.29 L581.68,200.23 L581.89,199.16 L582.11,198.09 L582.32,197.01 L582.54,195.92 L582.75,194.84 L582.97,193.77 L583.18,192.71 L583.4,191.66 L583.61,190.64 L583.83,189.64 L584.04,188.68 L584.26,187.76 L584.48,186.89 L584.69,186.07 L584.91,185.32 L585.12,184.63 L585.34,184.01 L585.55,183.48 L585.77,183.02 L585.98,182.66 L586.2,182.39 L586.41,182.21 L586.63,182.13 L586.84,182.15 L587.06,182.27 L587.27,182.48 L587.49,182.78 L587.7,183.17 L587.92,183.65 L588.13,184.21 L588.35,184.83 L588.57,185.53 L588.78,186.29 L589,187.1 L589.21,187.95 L589.43,188.85 L589.64,189.78 L589.86,190.74 L590.07,191.72 L590.29,192.72 L590.5,193.73 L590.72,194.74 L590.93,195.76 L591.15,196.77 L591.36,197.78 L591.58,198.78 L591.79,199.76 L592.01,200.73 L592.22,201.68 L592.44,202.62 L592.65,203.53 L592.87,204.41 L593.09,205.28 L593.3,206.11 L593.52,206.92 L593.73,207.71 L593.95,208.46 L594.16,209.19 L594.38,209.88 L594.59,210.55 L594.81,211.18 L595.02,211.79 L595.24,212.36 L595.45,212.91 L595.67,213.43 L595.88,213.91 L596.1,214.37 L596.31,214.79 L596.53,215.19 L596.74,215.56 L596.96,215.89 L597.18,216.21 L597.39,216.49 L597.61,216.74 L597.82,216.97 L598.04,217.17 L598.25,217.34 L598.47,217.49 L598.68,217.61 L598.9,217.7 L599.11,217.77 L599.33,217.81 L599.54,217.82 L599.76,217.81 L599.97,217.77 L600.19,217.71 L600.4,217.62 L600.62,217.5 L600.83,217.36 L601.05,217.19 L601.26,216.99 L601.48,216.76 L601.7,216.51 L601.91,216.22 L602.13,215.91 L602.34,215.56 L602.56,215.19 L602.77,214.78 L602.99,214.34 L603.2,213.87 L603.42,213.37 L603.63,212.82 L603.85,212.25 L604.06,211.64 L604.28,210.99 L604.49,210.3 L604.71,209.57 L604.92,208.81 L605.14,208 L605.35,207.15 L605.57,206.26 L605.79,205.33 L606,204.36 L606.22,203.34 L606.43,202.27 L606.65,201.16 L606.86,200.01 L607.08,198.8 L607.29,197.56 L607.51,196.26 L607.72,194.92 L607.94,193.54 L608.15,192.1 L608.37,190.62 L608.58,189.1 L608.8,187.53 L609.01,185.92 L609.23,184.26 L609.44,182.57 L609.66,180.83 L609.87,179.05 L610.09,177.23 L610.31,175.38 L610.52,173.49 L610.74,171.57 L610.95,169.61 L611.17,167.63 L611.38,165.63 L611.6,163.6 L611.81,161.55 L612.03,159.49 L612.24,157.42 L612.46,155.33 L612.67,153.24 L612.89,151.15 L613.1,149.06 L613.32,146.98 L613.53,144.92 L613.75,142.87 L613.96,140.85 L614.18,138.85 L614.4,136.89 L614.61,134.96 L614.83,133.09 L615.04,131.27 L615.26,129.5 L615.47,127.8 L615.69,126.17 L615.9,124.62 L616.12,123.16 L616.33,121.78 L616.55,120.5 L616.76,119.33 L616.98,118.26 L617.19,117.31 L617.41,116.47 L617.62,115.76 L617.84,115.17 L618.05,114.71 L618.27,114.39 L618.48,114.2 L618.7,114.15 L618.92,114.26 L619.13,114.56 L619.35,115.05 L619.56,115.73 L619.78,116.59 L619.99,117.63 L620.21,118.83 L620.42,120.2 L620.64,121.71 L620.85,123.37 L621.07,125.15 L621.28,127.05 L621.5,129.07 L621.71,131.17 L621.93,133.37 L622.14,135.64 L622.36,137.98 L622.57,140.37 L622.79,142.81 L623.01,145.28 L623.22,147.78 L623.44,150.3 L623.65,152.83 L623.87,155.37 L624.08,157.89 L624.3,160.41 L624.51,162.91 L624.73,165.39 L624.94,167.83 L625.16,170.25 L625.37,172.62 L625.59,174.96 L625.8,177.24 L626.02,179.48 L626.23,181.67 L626.45,183.8 L626.66,185.87 L626.88,187.88 L627.09,189.84 L627.31,191.73 L627.53,193.56 L627.74,195.32 L627.96,197.02 L628.17,198.66 L628.39,200.23 L628.6,201.74 L628.82,203.19 L629.03,204.57 L629.25,205.89 L629.46,207.15 L629.68,208.35 L629.89,209.5 L630.11,210.58 L630.32,211.62 L630.54,212.59 L630.75,213.52 L630.97,214.4 L631.18,215.23 L631.4,216.01 L631.62,216.75 L631.83,217.45 L632.05,218.11 L632.26,218.73 L632.48,219.31 L632.69,219.86 L632.91,220.37 L633.12,220.85 L633.34,221.31 L633.55,221.73 L633.77,222.13 L633.98,222.51 L634.2,222.86 L634.41,223.19 L634.63,223.5 L634.84,223.79 L635.06,224.06 L635.27,224.31 L635.49,224.55 L635.7,224.78 L635.92,224.99 L636.14,225.19 L636.35,225.38 L636.57,225.56 L636.78,225.72 L637,225.88 L637.21,226.03 L637.43,226.17 L637.64,226.31 L637.86,226.43 L638.07,226.55 L638.29,226.67 L638.5,226.78 L638.72,226.88 L638.93,226.98 L639.15,227.08 L639.36,227.17 L639.58,227.26 L639.79,227.34 L640.01,227.42 L640.23,227.5 L640.44,227.57 L640.66,227.64 L640.87,227.71 L641.09,227.78 L641.3,227.85 L641.52,227.91 L641.73,227.97 L641.95,228.03 L642.16,228.09 L642.38,228.14 L642.59,228.2 L642.81,228.25 L643.02,228.3 L643.24,228.35 L643.45,228.4 L643.67,228.45 L643.88,228.49 L644.1,228.54 L644.31,228.58 L644.53,228.63 L644.75,228.67 L644.96,228.71 L645.18,228.75 L645.39,228.79 L645.61,228.83 L645.82,228.87 L646.04,228.9 L646.25,228.94 L646.47,228.97 L646.68,229.01 L646.9,229.04 L647.11,229.07 L647.33,229.11 L647.54,229.14 L647.76,229.17 L647.97,229.2 L648.19,229.23 L648.4,229.26 L648.62,229.29 L648.84,229.32 L649.05,229.34 L649.27,229.37 L649.48,229.4 L649.7,229.42 L649.91,229.45 L650.13,229.47 L650.34,229.5 L650.56,229.52 L650.77,229.55 L650.99,229.57 L651.2,229.59 L651.42,229.61 L651.63,229.64 L651.85,229.66 L652.06,229.68 L652.28,229.7 L652.49,229.72 L652.71,229.74 L652.92,229.76 L653.14,229.78 L653.36,229.8 L653.57,229.82 L653.79,229.84 L654,229.86 L654.22,229.87 L654.43,229.89 L654.65,229.91 L654.86,229.93 L655.08,229.94 L655.29,229.96 L655.51,229.97 L655.72,229.99 L655.94,230.01 L656.15,230.02 L656.37,230.04 L656.58,230.05 L656.8,230.07 L657.01,230.08 L657.23,230.1 L657.45,230.11 L657.66,230.12 L657.88,230.14 L658.09,230.15 L658.31,230.16 L658.52,230.18 L658.74,230.19 L658.95,230.2 L659.17,230.22 L659.38,230.23 L659.6,230.24 L659.81,230.25 L660.03,230.26 L660.24,230.27 L660.46,230.29 L660.67,230.3 L660.89,230.31 L661.1,230.32 L661.32,230.33 L661.53,230.34 L661.75,230.35 L661.97,230.36 L662.18,230.37 L662.4,230.38 L662.61,230.39 L662.83,230.4 L663.04,230.41 L663.26,230.42 L663.47,230.43 L663.69,230.44 L663.9,230.45 L664.12,230.46 L664.33,230.47 L664.55,230.48 L664.76,230.48 L664.98,230.49 L665.19,230.5 L665.41,230.51 L665.62,230.52 L665.84,230.53 L666.06,230.53 L666.27,230.54 L666.49,230.55 L666.7,230.56 L666.92,230.57 L667.13,230.57 L667.35,230.58 L667.56,230.59 L667.78,230.6 L667.99,230.6 L668.21,230.61 L668.42,230.62 L668.64,230.62 L668.85,230.63 L669.07,230.64 L669.28,230.64 L669.5,230.65 L669.71,230.66 L669.93,230.66 L670.14,230.67 L670.36,230.68 L670.58,230.68 L670.79,230.69 L671.01,230.69 L671.22,230.7 L671.44,230.71 L671.65,230.71 L671.87,230.72 L672.08,230.72 L672.3,230.73 L672.51,230.74 L672.73,230.74 L672.94,230.75 L673.16,230.75" fill="none" stroke="#3030f0" stroke-width="1.5" stroke-linejoin="round" />
<line x1="618.7" y1="3.0" x2="618.7" y2="233.2" stroke="#2222ee" stroke-width="1.4" stroke-dasharray="6.5,5.1" stroke-dashoffset="10.3"/>
<rect x="532.5" y="3.0" width="150.70" height="230.20" fill="none" stroke="#4a4a4a" stroke-width="1.35"/>
<line x1="528.0" y1="231.50" x2="532.5" y2="231.50" stroke="#4a4a4a" stroke-width="1.35"/>
<text x="524.5" y="235.4" font-size="10.8" text-anchor="end" fill="#000" >0.0</text>
<line x1="530.0" y1="208.00" x2="532.5" y2="208.00" stroke="#4a4a4a" stroke-width="1.35"/>
<line x1="528.0" y1="184.50" x2="532.5" y2="184.50" stroke="#4a4a4a" stroke-width="1.35"/>
<text x="524.5" y="188.4" font-size="10.8" text-anchor="end" fill="#000" >0.4</text>
<line x1="530.0" y1="161.00" x2="532.5" y2="161.00" stroke="#4a4a4a" stroke-width="1.35"/>
<line x1="528.0" y1="137.50" x2="532.5" y2="137.50" stroke="#4a4a4a" stroke-width="1.35"/>
<text x="524.5" y="141.4" font-size="10.8" text-anchor="end" fill="#000" >0.8</text>
<line x1="530.0" y1="114.00" x2="532.5" y2="114.00" stroke="#4a4a4a" stroke-width="1.35"/>
<line x1="528.0" y1="90.50" x2="532.5" y2="90.50" stroke="#4a4a4a" stroke-width="1.35"/>
<text x="524.5" y="94.4" font-size="10.8" text-anchor="end" fill="#000" >1.2</text>
<line x1="530.0" y1="67.00" x2="532.5" y2="67.00" stroke="#4a4a4a" stroke-width="1.35"/>
<line x1="528.0" y1="43.50" x2="532.5" y2="43.50" stroke="#4a4a4a" stroke-width="1.35"/>
<text x="524.5" y="47.4" font-size="10.8" text-anchor="end" fill="#000" >1.6</text>
<line x1="530.0" y1="20.00" x2="532.5" y2="20.00" stroke="#4a4a4a" stroke-width="1.35"/>
<line x1="532.60" y1="233.2" x2="532.60" y2="237.7" stroke="#4a4a4a" stroke-width="1.35"/>
<text x="532.6" y="249.6" font-size="10.8" text-anchor="middle" fill="#000" >7020</text>
<line x1="554.12" y1="233.2" x2="554.12" y2="235.7" stroke="#4a4a4a" stroke-width="1.35"/>
<line x1="575.65" y1="233.2" x2="575.65" y2="237.7" stroke="#4a4a4a" stroke-width="1.35"/>
<text x="575.65" y="249.6" font-size="10.8" text-anchor="middle" fill="#000" >7040</text>
<line x1="597.17" y1="233.2" x2="597.17" y2="235.7" stroke="#4a4a4a" stroke-width="1.35"/>
<line x1="618.70" y1="233.2" x2="618.70" y2="237.7" stroke="#4a4a4a" stroke-width="1.35"/>
<text x="618.7" y="249.6" font-size="10.8" text-anchor="middle" fill="#000" >7060</text>
<line x1="640.23" y1="233.2" x2="640.23" y2="235.7" stroke="#4a4a4a" stroke-width="1.35"/>
<line x1="661.75" y1="233.2" x2="661.75" y2="237.7" stroke="#4a4a4a" stroke-width="1.35"/>
<text x="661.75" y="249.6" font-size="10.8" text-anchor="middle" fill="#000" >7080</text>
<line x1="683.27" y1="233.2" x2="683.27" y2="235.7" stroke="#4a4a4a" stroke-width="1.35"/>
<text x="507.6" y="19.8" font-size="19.2" text-anchor="start" fill="#000" >(c)</text>
<text x="546.6" y="52.3" font-size="27.5" text-anchor="start" fill="#f51a1a" >LS</text>
<text x="546.8" y="171.5" font-size="27.5" text-anchor="start" fill="#1a1af5" >HS</text>
<text x="608" y="268.4" font-size="13" text-anchor="middle" fill="#000" >Energy (eV)</text>
<text transform="translate(504.4,118) rotate(-90)" font-size="13" text-anchor="middle" fill="#000">Intensity (arb. unit)</text>
</svg>
</body></html>
